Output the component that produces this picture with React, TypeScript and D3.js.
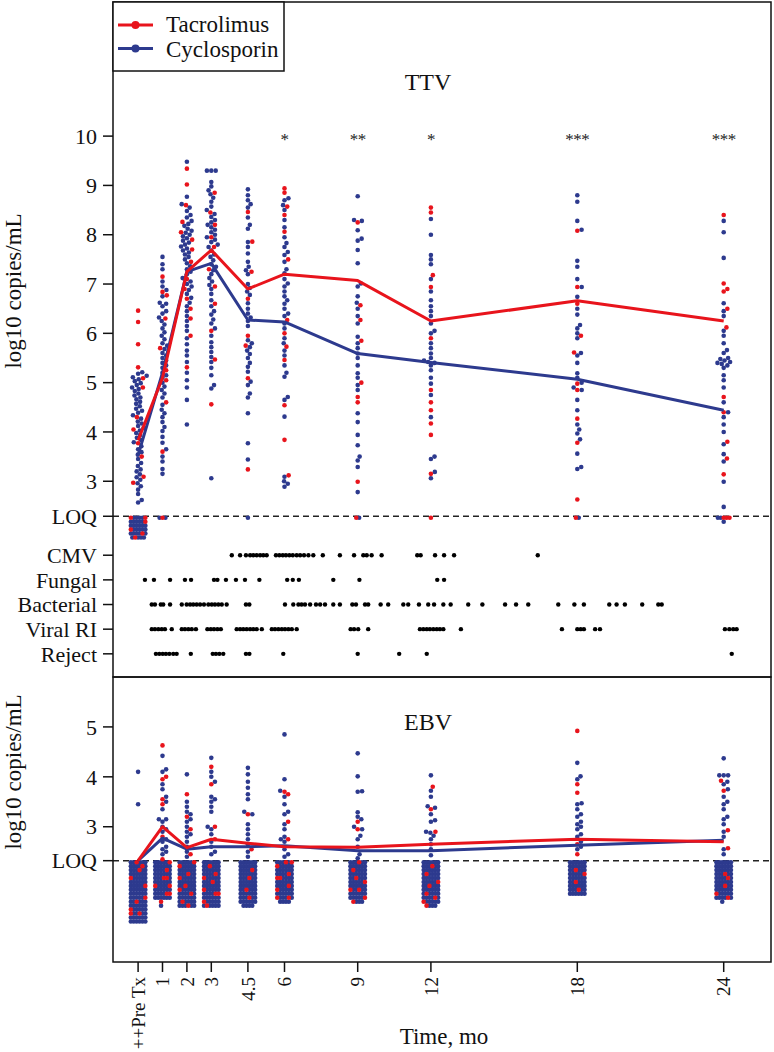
import React, { useEffect } from 'react';
import * as d3 from 'd3';

// ---------------- DATA ----------------
const TIMES = [0, 1, 2, 3, 4.5, 6, 9, 12, 18, 24];
const TIME_LABELS = ['++Pre Tx', '1', '2', '3', '4.5', '6', '9', '12', '18', '24'];
const SERIES_NAMES = ['Tacrolimus', 'Cyclosporin'];

// TTV, log10 copies/mL, values above LOQ per timepoint
const TAC_TTV: number[][] = [
  [6.46, 6.23, 5.78, 5.31, 5.09, 4.9, 4.3, 4.05, 3.77, 3.5, 3.09, 2.97],
  [7.15, 6.84, 6.77, 6.3, 5.7, 5.25, 5.05, 4.6, 3.6],
  [9.34, 9.02, 8.6, 8.26, 8.05, 7.9, 7.7, 7.45, 7.1, 6.9, 6.7, 6.5, 6.3, 5.95, 5.31],
  [8.85, 8.45, 8.2, 7.95, 7.75, 7.3, 6.95, 6.6, 6.05, 5.47, 4.56],
  [8.46, 7.86, 7.25, 6.7, 5.95, 5.75, 5.09, 3.24],
  [8.94, 8.85, 8.57, 8.4, 8.06, 7.5, 6.27, 6.0, 5.73, 5.46, 4.54, 3.84, 3.12],
  [8.25, 6.57, 6.27, 5.85, 5.0, 4.71, 4.6, 2.99],
  [8.55, 8.45, 7.18, 6.94, 5.9, 4.85, 4.6, 4.44, 4.17, 3.94, 3.15],
  [8.08, 6.94, 6.6, 5.95, 5.61, 4.98, 4.85, 4.27, 3.78, 2.63],
  [8.4, 7.01, 6.9, 6.85, 6.5, 6.12, 4.71, 4.4, 3.8, 3.46, 3.14],
];
const CYC_TTV: number[][] = [
  [5.21, 5.18, 5.14, 5.11, 5.07, 5.03, 4.99, 4.95, 4.9, 4.87, 4.83, 4.78, 4.74, 4.7, 4.66, 4.61, 4.57, 4.52, 4.47, 4.43, 4.39, 4.34, 4.27, 4.21, 4.17, 4.12, 4.08, 4.03, 3.98, 3.94, 3.88, 3.84, 3.79, 3.71, 3.65, 3.59, 3.54, 3.45, 3.37, 3.31, 3.24, 3.2, 3.14, 3.08, 3.03, 2.96, 2.9, 2.83, 2.74, 2.62, 2.57],
  [7.55, 7.4, 7.3, 7.05, 6.95, 6.88, 6.75, 6.62, 6.6, 6.55, 6.45, 6.4, 6.32, 6.25, 6.18, 6.1, 6.02, 5.95, 5.88, 5.8, 5.75, 5.68, 5.6, 5.55, 5.5, 5.45, 5.4, 5.35, 5.3, 5.2, 5.15, 5.1, 5.0, 4.92, 4.85, 4.78, 4.7, 4.55, 4.45, 4.38, 4.3, 4.2, 4.1, 4.02, 3.9, 3.78, 3.65, 3.5, 3.4, 3.25, 3.15],
  [9.48, 8.77, 8.62, 8.55, 8.48, 8.4, 8.35, 8.28, 8.22, 8.18, 8.12, 8.08, 8.04, 8.0, 7.97, 7.93, 7.88, 7.84, 7.8, 7.76, 7.72, 7.68, 7.64, 7.6, 7.55, 7.5, 7.42, 7.36, 7.3, 7.25, 7.2, 7.12, 7.05, 7.0, 6.95, 6.88, 6.8, 6.72, 6.62, 6.55, 6.45, 6.35, 6.25, 6.15, 6.05, 5.9, 5.78, 5.65, 5.55, 5.42, 5.2, 5.05, 4.9, 4.65, 4.15],
  [9.3, 9.3, 9.3, 9.07, 8.98, 8.9, 8.82, 8.75, 8.67, 8.57, 8.5, 8.42, 8.36, 8.3, 8.25, 8.2, 8.15, 8.1, 8.05, 8.0, 7.95, 7.9, 7.85, 7.8, 7.75, 7.68, 7.6, 7.55, 7.48, 7.4, 7.35, 7.28, 7.2, 7.12, 7.05, 6.98, 6.9, 6.8, 6.67, 6.55, 6.45, 6.38, 6.28, 6.2, 6.1, 5.95, 5.82, 5.72, 5.62, 5.52, 5.42, 5.3, 5.15, 4.95, 4.88, 3.06],
  [8.92, 8.8, 8.7, 8.62, 8.55, 8.35, 8.2, 8.12, 7.85, 7.75, 7.62, 7.45, 7.35, 7.28, 7.2, 7.0, 6.92, 6.85, 6.78, 6.61, 6.5, 6.4, 6.32, 6.25, 6.15, 5.86, 5.8, 5.72, 5.65, 5.58, 5.5, 5.4, 5.32, 5.22, 5.02, 4.95, 4.78, 4.7, 4.38, 3.77, 3.44],
  [8.74, 8.7, 8.6, 8.5, 8.3, 8.15, 7.95, 7.83, 7.75, 7.65, 7.59, 7.45, 7.3, 7.22, 7.1, 7.01, 6.95, 6.85, 6.75, 6.67, 6.6, 6.5, 6.4, 6.35, 6.2, 6.1, 5.9, 5.8, 5.65, 5.55, 5.35, 5.2, 5.12, 4.71, 4.65, 4.31, 3.09, 3.0, 2.95, 2.89],
  [8.78, 8.3, 8.28, 8.09, 7.92, 7.88, 7.69, 7.42, 7.01, 6.95, 6.75, 6.62, 6.5, 6.35, 6.2, 5.93, 5.8, 5.7, 5.59, 5.5, 5.35, 5.19, 5.1, 4.95, 4.85, 4.38, 4.2, 3.94, 3.73, 3.5, 3.42, 3.29, 2.78],
  [8.32, 8.0, 7.59, 7.5, 7.4, 7.1, 6.85, 6.67, 6.55, 6.45, 6.35, 6.2, 6.05, 6.0, 5.8, 5.7, 5.59, 5.5, 5.45, 5.42, 5.4, 5.35, 5.25, 5.1, 4.98, 4.75, 4.3, 3.5, 3.45, 3.19, 3.06],
  [8.8, 8.67, 8.28, 8.1, 7.47, 7.35, 7.1, 6.94, 6.74, 6.5, 6.38, 6.17, 6.1, 6.0, 5.9, 5.6, 5.55, 5.4, 5.19, 5.1, 5.0, 4.9, 4.85, 4.65, 4.44, 4.15, 4.05, 3.97, 3.85, 3.56, 3.29, 3.25],
  [8.28, 8.05, 7.53, 6.61, 6.45, 6.35, 6.05, 5.95, 5.8, 5.66, 5.6, 5.5, 5.48, 5.45, 5.42, 5.4, 5.38, 5.35, 5.3, 5.15, 5.05, 4.9, 4.6, 4.4, 4.3, 4.15, 4.0, 3.75, 3.55, 3.4, 2.99, 2.48],
];
// below-LOQ TTV samples (r = Tacrolimus, b = Cyclosporin, . = empty), rows from LOQ downwards
const TTV_BELOW_LOQ: string[][] = [
  ['rbbbbr', 'bbbbbr', 'bbbbbb', 'rbbbbb', 'bbbbrb', 'brbbb'],
  ['brb'], [], [], ['b'], [], ['rb'], ['r'], ['rb'], ['bbrrr', '..b..'],
];
const TAC_TTV_MEDIAN = [3.83, 5.1, 7.25, 7.69, 6.9, 7.2, 7.07, 6.25, 6.66, 6.25];
const CYC_TTV_MEDIAN = [3.53, 5.2, 7.25, 7.42, 6.27, 6.23, 5.59, 5.41, 5.07, 4.44];
const TTV_SIGNIF = ['', '', '', '', '', '*', '**', '*', '***', '***'];
const TTV_TICKS = [3, 4, 5, 6, 7, 8, 9, 10];
const TTV_LOQ = 2.29;

// EBV
const TAC_EBV: number[][] = [
  [],
  [4.63, 4.0, 3.95, 3.55, 3.45, 2.8, 2.35],
  [3.65, 3.2, 2.95, 2.45],
  [4.2, 3.85, 3.0, 2.75],
  [3.25, 2.55],
  [3.7, 3.65, 3.1, 2.75],
  [3.1, 2.95],
  [3.8, 3.35, 2.9],
  [4.92, 3.85, 3.68, 2.65, 2.45],
  [3.92, 3.72, 2.93, 2.57],
];
const CYC_EBV: number[][] = [
  [4.1, 3.45],
  [4.42, 4.15, 4.1, 3.85, 3.75, 3.6, 3.5, 3.35, 3.15, 3.15, 3.1, 3.0, 2.95, 2.9, 2.75, 2.7, 2.6, 2.55, 2.5, 2.45],
  [4.05, 3.5, 3.4, 3.3, 3.25, 3.15, 3.1, 3.0, 2.9, 2.85, 2.8, 2.7, 2.6, 2.5, 2.4],
  [4.38, 4.1, 4.0, 3.9, 3.6, 3.55, 3.5, 3.4, 3.3, 3.0, 2.95, 2.85, 2.7, 2.6, 2.5, 2.45],
  [4.18, 4.05, 3.9, 3.78, 3.65, 3.55, 3.3, 3.25, 3.05, 2.95, 2.85, 2.75, 2.65, 2.5, 2.4],
  [4.85, 3.95, 3.72, 3.6, 3.45, 3.3, 3.25, 3.05, 2.95, 2.8, 2.75, 2.7, 2.55, 2.45, 2.4],
  [4.47, 4.01, 3.71, 3.7, 3.29, 3.2, 3.15, 3.0, 2.95, 2.82, 2.75, 2.6, 2.45, 2.37],
  [4.03, 3.72, 3.6, 3.41, 3.38, 3.25, 3.13, 3.1, 2.9, 2.88, 2.82, 2.75, 2.65, 2.55, 2.43],
  [4.28, 4.01, 3.95, 3.47, 3.45, 3.35, 3.25, 3.2, 3.1, 3.05, 3.0, 2.95, 2.85, 2.8, 2.7, 2.6, 2.55],
  [4.37, 4.03, 4.03, 4.03, 3.9, 3.85, 3.75, 3.6, 3.5, 3.45, 3.35, 3.2, 3.15, 3.05, 2.9, 2.8, 2.55, 2.45],
];
const EBV_BELOW_LOQ: string[][] = [
  ['bbrbbb', 'bbbbrb', 'bbbrbb', 'bbbbbb', 'rbbbbb', 'bbbbbb', 'bbbbbr', 'bbbbbb', 'bbbbbb', 'bbbbbr', 'bbrbbb', 'bbbbbb', 'rbbbbb', 'rbbrbb', 'bbbbbb', 'bbbbbb'],
  ['bbbbbr', 'bbbbbb', 'bbbbrb', 'bbbbbb', 'bbbrrb', 'bbbbbb', 'rbbbbr', 'bbbbbb', 'bbbbrr', 'bbbbbb', '..r...', '..b...'],
  ['bbbbbr', 'rbbbbb', 'bbbbbb', 'bbbrbb', 'rbbbbb', 'bbbbbb', 'bbrbbb', 'rbbbbb', 'bbbbrb', 'bbbbbb', 'brbbbb', 'bbbrbb'],
  ['bbbbbb', 'bbrbbb', 'bbbbbb', 'bbbbrb', 'rbbbbb', 'bbbrbb', 'bbbbbb', 'rbbbbb', 'bbbbrr', 'bbbbbb', 'rbbbbb', 'brbbbb'],
  ['bbbbbb', 'bbbbbb', 'bbbbrb', 'bbbbbb', 'bbbrbb', 'bbbbbb', 'bbbbbb', 'bbrbbb', 'bbbbbb', 'bbbrbb', 'bbbbbb', '.bbbb.'],
  ['bbbrbr', 'rbbbbb', 'bbbbbb', 'bbbbrb', 'rrbbbb', 'bbbbbb', 'bbbbrb', 'rbbbbb', 'bbbbbb', 'rbbbrb', '.bbbb.'],
  ['bbbrbb', 'bbbbbb', 'brbbbb', 'bbbbbb', 'bbrbbb', 'bbbbbr', 'bbbbbb', 'rbbrbb', 'bbbbbb', 'bbbbbr', '.rbbb.'],
  ['bbbbbb', 'bbbrbb', 'bbbbbb', 'brbbbb', 'bbbbbb', 'bbbbbr', 'bbrbbb', 'bbbbbb', 'brbbbb', 'bbbbrb', 'rbbbbb', '.rbbb.'],
  ['bbbbbb', 'bbbbbb', 'bbrbbb', 'bbbbbr', 'bbbbbb', 'bbrbbb', 'bbbbbb', 'bbbrbb', 'bbbbbb'],
  ['bbbbbb', 'bbbbbb', 'bbbbbb', 'bbbrbb', 'bbbbrb', 'bbbbbb', 'bbbrbb', 'bbbbbb', 'rbbbbb', 'bbbbrb', '..b...'],
];
const TAC_EBV_MEDIAN = [2.32, 3.0, 2.58, 2.75, 2.67, 2.6, 2.59, 2.65, 2.75, 2.7];
const CYC_EBV_MEDIAN = [2.32, 2.77, 2.55, 2.6, 2.6, 2.62, 2.52, 2.52, 2.63, 2.73];
const EBV_TICKS = [3, 4, 5];
const EBV_LOQ = 2.32;

// Clinical events (months post transplant)
const EVENT_NAMES = ['CMV', 'Fungal', 'Bacterial', 'Viral RI', 'Reject'];
const EVENT_LEVELS = [1.5, 1, 0.5, 0, -0.5];
const CMV_EVENTS = [3.84, 4.18, 4.42, 4.59, 4.72, 4.86, 5.0, 5.13, 5.27, 5.65, 5.79, 5.93, 6.06, 6.2, 6.34, 6.5, 6.64, 6.8, 6.98, 7.18, 7.57, 8.27, 8.85, 9.23, 9.37, 9.57, 9.98, 11.44, 11.58, 12.17, 12.54, 12.95, 16.38];
const FUNGAL_EVENTS = [0.28, 0.65, 1.31, 1.92, 2.17, 3.11, 3.25, 3.6, 4.01, 4.38, 4.97, 6.11, 6.34, 6.59, 8.0, 9.07, 12.26, 12.54];
const BACTERIAL_EVENTS = [0.56, 0.69, 0.93, 1.03, 1.31, 1.79, 1.99, 2.13, 2.26, 2.4, 2.54, 2.7, 2.88, 3.02, 3.15, 3.29, 3.43, 3.63, 4.42, 4.56, 6.02, 6.36, 6.57, 6.7, 6.84, 7.05, 7.29, 7.46, 7.66, 8.0, 8.27, 8.78, 8.93, 9.3, 9.43, 9.94, 10.25, 10.87, 11.07, 11.51, 11.89, 12.13, 12.51, 12.81, 13.53, 14.11, 15.04, 15.49, 15.99, 17.22, 17.88, 18.27, 19.31, 19.61, 19.95, 20.66, 21.32, 21.46];
const VIRAL_EVENTS = [0.56, 0.69, 0.83, 0.97, 1.1, 1.38, 1.79, 1.92, 2.06, 2.2, 2.37, 2.84, 2.98, 3.11, 3.25, 3.39, 4.04, 4.18, 4.31, 4.45, 4.59, 4.72, 4.86, 5.07, 5.48, 5.61, 5.75, 5.89, 6.02, 6.16, 6.3, 6.5, 8.71, 8.85, 9.02, 9.43, 11.55, 11.69, 11.83, 11.96, 12.1, 12.24, 12.37, 12.51, 13.23, 17.37, 18.0, 18.14, 18.27, 18.73, 18.93, 24.05, 24.23, 24.39, 24.53];
const REJECT_EVENTS = [0.73, 0.87, 1.01, 1.14, 1.28, 1.44, 1.58, 2.16, 3.06, 3.19, 3.33, 3.49, 4.42, 4.56, 5.95, 9.0, 10.7, 11.83, 24.33];
const EVENTS = [CMV_EVENTS, FUNGAL_EVENTS, BACTERIAL_EVENTS, VIRAL_EVENTS, REJECT_EVENTS];

// ---------------- STYLE ----------------
const RED = '#e8141c';
const BLUE = '#2d3a8e';
const FONT = '"Liberation Serif", "Times New Roman", serif';
const R = 2.3;
const SWARM_D = 4.4;
const COL_SP = 2.9;
const ROW_SP = 3.95;

const L = 113, RGT = 771, TOP = 2, MID = 677, BOT = 962;

const x = d3.scaleLinear().domain([0, 24]).range([138.1, 723.7]);
const yTop = d3.scaleLinear().domain([-0.97, 12.72]).range([MID, TOP]);
const yBot = d3.scaleLinear().domain([0.29, 6.0]).range([BOT, MID]);

type Pt = { x: number; y: number; c: string };

function swarm(vals: { v: number; c: string }[], y: (v: number) => number, cx: number): Pt[] {
  const sorted = [...vals].sort((a, b) => a.v - b.v);
  const placed: Pt[] = [];
  const d = SWARM_D;
  for (const p of sorted) {
    const py = y(p.v);
    const near = placed.filter((q) => Math.abs(q.y - py) < d);
    const cands = [0];
    for (const q of near) {
      const dx = Math.sqrt(d * d - (q.y - py) ** 2);
      cands.push(q.x + dx, q.x - dx);
    }
    cands.sort((a, b) => Math.abs(a) - Math.abs(b) || b - a);
    let chosen = 0;
    for (const c of cands) {
      if (near.every((q) => (q.x - c) ** 2 + (q.y - py) ** 2 >= d * d - 0.01)) { chosen = c; break; }
    }
    placed.push({ x: chosen, y: py, c: p.c });
  }
  return placed.map((p) => ({ ...p, x: p.x + cx }));
}

function grid(rows: string[], cx: number, y0: number): Pt[] {
  const out: Pt[] = [];
  rows.forEach((row, ri) => {
    const n = row.length;
    for (let i = 0; i < n; i++) {
      const ch = row[i];
      if (ch === '.') continue;
      out.push({ x: cx + (i - (n - 1) / 2) * COL_SP, y: y0 + 1.5 + ri * ROW_SP, c: ch === 'r' ? RED : BLUE });
    }
  });
  return out;
}

function buildPoints(tac: number[][], cyc: number[][], below: string[][], y: d3.ScaleLinear<number, number>, loq: number): Pt[] {
  const pts: Pt[] = [];
  TIMES.forEach((t, i) => {
    const cx = x(t);
    const vals = [
      ...tac[i].map((v) => ({ v, c: RED })),
      ...cyc[i].map((v) => ({ v, c: BLUE })),
    ];
    pts.push(...swarm(vals, y, cx));
    pts.push(...grid(below[i], cx, y(loq)));
  });
  // blue beneath, red above
  return [...pts.filter((p) => p.c === BLUE), ...pts.filter((p) => p.c === RED)];
}

export default function App() {
  useEffect(() => { document.body.style.margin = '0'; }, []);

  const topPts = buildPoints(TAC_TTV, CYC_TTV, TTV_BELOW_LOQ, yTop, TTV_LOQ);
  const botPts = buildPoints(TAC_EBV, CYC_EBV, EBV_BELOW_LOQ, yBot, EBV_LOQ);

  const lineTop = d3.line<number>().x((_, i) => x(TIMES[i])).y((v) => yTop(v));
  const lineBot = d3.line<number>().x((_, i) => x(TIMES[i])).y((v) => yBot(v));

  const tickLen = 10;
  const labFs = 22;

  const yTickTop = [
    ...TTV_TICKS.map((v) => ({ v, label: String(v) })),
    { v: TTV_LOQ, label: 'LOQ' },
    ...EVENT_NAMES.map((n, i) => ({ v: EVENT_LEVELS[i], label: n })),
  ];
  const yTickBot = [
    ...EBV_TICKS.map((v) => ({ v, label: String(v) })),
    { v: EBV_LOQ, label: 'LOQ' },
  ];

  return (
    <div style={{ position: 'absolute', left: 0, top: 0 }}>
      <svg width={774} height={1052} style={{ display: 'block', fontFamily: FONT }}>
        <rect x={0} y={0} width={774} height={1052} fill="#fff" />

        {/* LOQ dashed lines */}
        <line x1={L} x2={RGT} y1={yTop(TTV_LOQ)} y2={yTop(TTV_LOQ)} stroke="#222" strokeWidth={1.5} strokeDasharray="6,4" />
        <line x1={L} x2={RGT} y1={yBot(EBV_LOQ)} y2={yBot(EBV_LOQ)} stroke="#222" strokeWidth={1.5} strokeDasharray="6,4" />

        {/* dots */}
        {topPts.map((p, i) => <circle key={'t' + i} cx={p.x} cy={p.y} r={R} fill={p.c} />)}
        {botPts.map((p, i) => <circle key={'b' + i} cx={p.x} cy={p.y} r={R} fill={p.c} />)}

        {/* event dots */}
        {EVENTS.map((evs, k) => evs.map((t, j) => (
          <circle key={`e${k}-${j}`} cx={x(t)} cy={yTop(EVENT_LEVELS[k])} r={2.2} fill="#000" />
        )))}

        {/* median lines */}
        <path d={lineTop(CYC_TTV_MEDIAN) || ''} fill="none" stroke={BLUE} strokeWidth={3} strokeLinejoin="round" />
        <path d={lineTop(TAC_TTV_MEDIAN) || ''} fill="none" stroke={RED} strokeWidth={3} strokeLinejoin="round" />
        <path d={lineBot(CYC_EBV_MEDIAN) || ''} fill="none" stroke={BLUE} strokeWidth={3} strokeLinejoin="round" />
        <path d={lineBot(TAC_EBV_MEDIAN) || ''} fill="none" stroke={RED} strokeWidth={3} strokeLinejoin="round" />

        {/* significance stars */}
        {TIMES.map((t, i) => TTV_SIGNIF[i] ? (
          <text key={'s' + i} x={x(t)} y={yTop(10) + 9} fontSize={17} textAnchor="middle" fill="#222" letterSpacing={-0.5}>{TTV_SIGNIF[i]}</text>
        ) : null)}

        {/* frames */}
        <rect x={L} y={TOP} width={RGT - L} height={MID - TOP} fill="none" stroke="#111" strokeWidth={1.5} />
        <rect x={L} y={MID} width={RGT - L} height={BOT - MID} fill="none" stroke="#111" strokeWidth={1.5} />

        {/* y axes */}
        {yTickTop.map((t, i) => (
          <g key={'yt' + i}>
            <line x1={L - tickLen} x2={L} y1={yTop(t.v)} y2={yTop(t.v)} stroke="#111" strokeWidth={1.5} />
            <text x={L - 16} y={yTop(t.v)} dy="0.35em" textAnchor="end" fontSize={labFs} fill="#111">{t.label}</text>
          </g>
        ))}
        {yTickBot.map((t, i) => (
          <g key={'yb' + i}>
            <line x1={L - tickLen} x2={L} y1={yBot(t.v)} y2={yBot(t.v)} stroke="#111" strokeWidth={1.5} />
            <text x={L - 16} y={yBot(t.v)} dy="0.35em" textAnchor="end" fontSize={labFs} fill="#111">{t.label}</text>
          </g>
        ))}
        <text transform="translate(21,291) rotate(-90)" textAnchor="middle" fontSize={23} fill="#111">log10 copies/mL</text>
        <text transform="translate(21,772) rotate(-90)" textAnchor="middle" fontSize={23} fill="#111">log10 copies/mL</text>

        {/* x axis */}
        {TIMES.map((t, i) => (
          <g key={'xt' + i}>
            <line x1={x(t)} x2={x(t)} y1={BOT} y2={BOT + tickLen} stroke="#111" strokeWidth={1.5} />
            <text transform={`translate(${x(t)},${BOT + 15}) rotate(-90)`} dy="0.35em" textAnchor="end" fontSize={19} fill="#111">{TIME_LABELS[i]}</text>
          </g>
        ))}
        <text x={444} y={1044} textAnchor="middle" fontSize={23} fill="#111">Time, mo</text>

        {/* panel titles */}
        <text x={428} y={90} textAnchor="middle" fontSize={24} fill="#111">TTV</text>
        <text x={428} y={730} textAnchor="middle" fontSize={24} fill="#111">EBV</text>

        {/* legend */}
        <rect x={L} y={TOP} width={171} height={69} fill="#fff" stroke="#111" strokeWidth={1.5} />
        {[RED, BLUE].map((c, i) => (
          <g key={'lg' + i}>
            <line x1={118} x2={153} y1={25 + i * 23.5} y2={25 + i * 23.5} stroke={c} strokeWidth={3} />
            <circle cx={135.5} cy={25 + i * 23.5} r={4} fill={c} />
            <text x={166} y={32 + i * 24.5} fontSize={23} fill="#111">{SERIES_NAMES[i]}</text>
          </g>
        ))}
      </svg>
    </div>
  );
}
